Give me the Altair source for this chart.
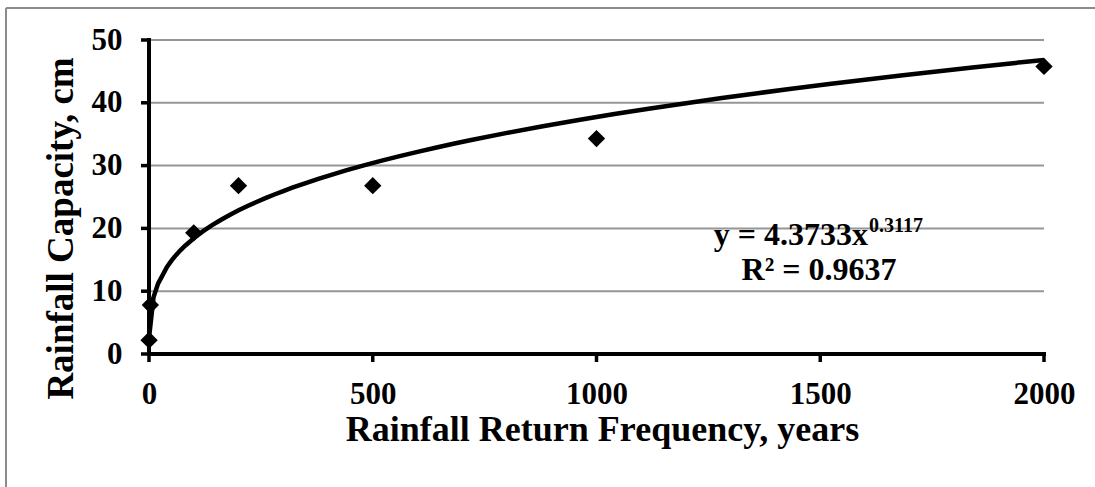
import altair as alt
import pandas as pd

# Data
return_years = [0.2, 3, 100, 200, 500, 1000, 2000]
capacity_cm = [2.2, 7.8, 19.3, 26.8, 26.8, 34.3, 45.8]
x_ticks = [0, 500, 1000, 1500, 2000]
y_ticks = [0, 10, 20, 30, 40, 50]
eq_main = "y = 4.3733x"
eq_exp = "0.3117"
eq_r2 = "R\u00b2 = 0.9637"

df = pd.DataFrame({"x": return_years, "y": capacity_cm})
xt = pd.DataFrame({"t": x_ticks})
yt = pd.DataFrame({"t": y_ticks})
one = pd.DataFrame({"k": [0]})

FONT = "Liberation Serif"
W, H = 895, 314
TICK = 8

xscale = alt.Scale(domain=[0, 2000], nice=False, zero=False)
yscale = alt.Scale(domain=[0, 50], nice=False)

xaxis = alt.Axis(
    title="Rainfall Return Frequency, years", values=x_ticks, grid=False, format="d",
    domain=False, ticks=False,
    labelFont=FONT, labelFontWeight="bold", labelFontSize=31, labelColor="black",
    labelPadding=17 + TICK, labelFlush=False, labelOverlap=False,
    titleFont=FONT, titleFontWeight="bold", titleFontSize=36, titleColor="black",
    titleX=453, titleY=86, titleAlign="center", titleBaseline="alphabetic",
)
yaxis = alt.Axis(
    title="Rainfall Capacity, cm", values=y_ticks, grid=False, format="d",
    domain=False, ticks=False,
    labelFont=FONT, labelFontWeight="bold", labelFontSize=31, labelColor="black",
    labelPadding=19 + TICK, labelFlush=False, labelOverlap=False,
    titleFont=FONT, titleFontWeight="bold", titleFontSize=37, titleColor="black",
    titleAngle=270, titleX=-77, titleY=188, titleAlign="center", titleBaseline="alphabetic",
)

# gridlines (horizontal only)
grid = alt.Chart(yt).mark_rule(color="#969696", strokeWidth=2).encode(
    y=alt.Y("t:Q", scale=yscale), x=alt.value(0), x2=alt.value(W)
)

# axis lines and tick marks
y_domain = alt.Chart(one).mark_rule(color="black", strokeWidth=4, strokeCap="square").encode(
    x=alt.value(0), y=alt.value(0), y2=alt.value(H)
)
x_domain = alt.Chart(one).mark_rule(color="black", strokeWidth=4, strokeCap="square").encode(
    y=alt.value(H), x=alt.value(0), x2=alt.value(W)
)
y_tickmarks = alt.Chart(yt).mark_rule(color="black", strokeWidth=3.5).encode(
    y=alt.Y("t:Q", scale=yscale), x=alt.value(-TICK), x2=alt.value(0)
)
x_tickmarks = alt.Chart(xt).mark_rule(color="black", strokeWidth=3.5).encode(
    x=alt.X("t:Q", scale=xscale), y=alt.value(H), y2=alt.value(H + TICK)
)

trend = alt.Chart(df).transform_regression("x", "y", method="pow").mark_line(
    color="black", strokeWidth=4.5
).encode(x=alt.X("x:Q", scale=xscale, axis=xaxis), y=alt.Y("y:Q", scale=yscale, axis=yaxis))

points = alt.Chart(df).mark_point(
    shape="diamond", filled=True, color="black", size=300, opacity=1
).encode(x=alt.X("x:Q", scale=xscale, axis=xaxis), y=alt.Y("y:Q", scale=yscale, axis=yaxis))

# chart-area border (top and left visible)
border_top = alt.Chart(one).mark_rule(color="#8c8c8c", strokeWidth=2).encode(
    x=alt.value(-143), x2=alt.value(960), y=alt.value(-32)
)
border_left = alt.Chart(one).mark_rule(color="#8c8c8c", strokeWidth=2).encode(
    x=alt.value(-143), y=alt.value(-32), y2=alt.value(460)
)

txt_main = alt.Chart(one).mark_text(
    font=FONT, fontWeight="bold", fontSize=32, color="black", align="right", baseline="alphabetic"
).encode(x=alt.value(719), y=alt.value(205), text=alt.value(eq_main))
txt_exp = alt.Chart(one).mark_text(
    font=FONT, fontWeight="bold", fontSize=20, color="black", align="left", baseline="alphabetic"
).encode(x=alt.value(720), y=alt.value(192), text=alt.value(eq_exp))
txt_r2 = alt.Chart(one).mark_text(
    font=FONT, fontWeight="bold", fontSize=32, color="black", align="center", baseline="alphabetic"
).encode(x=alt.value(670), y=alt.value(240), text=alt.value(eq_r2))

chart = alt.layer(
    grid, trend, points, y_domain, x_domain, y_tickmarks, x_tickmarks,
    border_top, border_left, txt_main, txt_exp, txt_r2
).properties(
    width=W, height=H,
    autosize=alt.AutoSizeParams(type="none"),
    padding={"left": 149, "top": 40, "right": 51, "bottom": 133},
    background="white",
).configure_view(stroke=None)

chart.save("out.html", embed_options={"renderer": "svg", "actions": False})
